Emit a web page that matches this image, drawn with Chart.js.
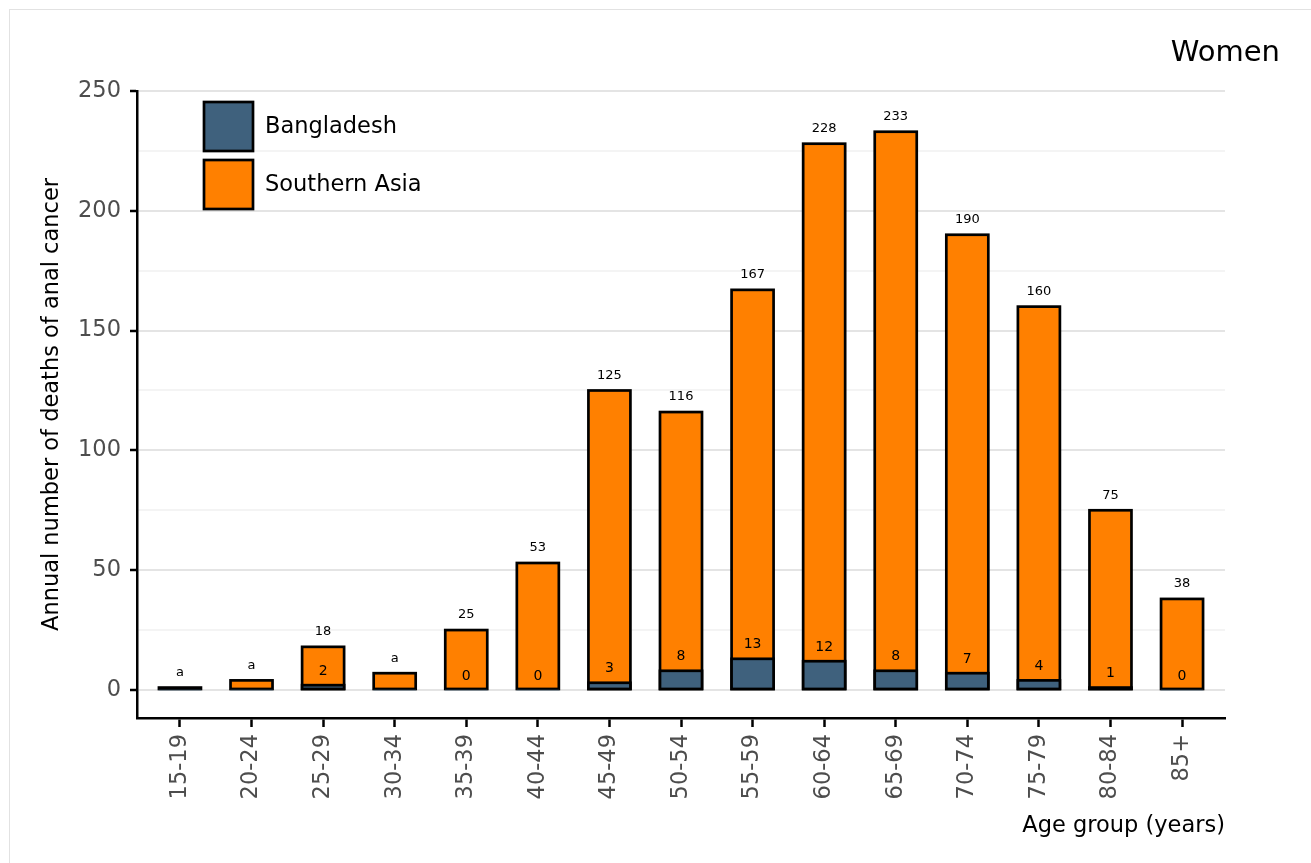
<!DOCTYPE html>
<html>
<head>
<meta charset="utf-8">
<script src="https://cdn.jsdelivr.net/npm/chart.js@4"></script>
<style>
  html, body { margin: 0; padding: 0; background: #fff; }
  #frame { position: absolute; left: 9px; top: 9px; right: 0; bottom: 0;
           border-left: 1px solid #e2e2e2; border-top: 1px solid #e2e2e2; }
  #chart { position: absolute; left: 0; top: 0; }
</style>
</head>
<body>
<div id="frame"></div>
<canvas id="chart" width="1311" height="863"></canvas>
<script>
// age groups and annual deaths (women)
const ageGroups = ['15-19', '20-24', '25-29', '30-34', '35-39', '40-44', '45-49', '50-54',
                   '55-59', '60-64', '65-69', '70-74', '75-79', '80-84', '85+'];
const southernAsia = [1, 4, 18, 7, 25, 53, 125, 116, 167, 228, 233, 190, 160, 75, 38];
const bangladesh   = [0, 0, 2, 0, 0, 0, 3, 8, 13, 12, 8, 7, 4, 1, 0];
const topLabels    = ['a', 'a', '18', 'a', '25', '53', '125', '116', '167', '228', '233', '190', '160', '75', '38'];
const bdLabels     = ['', '', '2', '', '0', '0', '3', '8', '13', '12', '8', '7', '4', '1', '0'];
const yTicks = [0, 50, 100, 150, 200, 250];

const FONT = 'DejaVu Sans';
const COL_BD = '#3f617d';
const COL_SA = '#ff8000';
const EDGE = 2.7;

// outline each bar on its edge (stroke centred, like the original), right after its dataset
const outlinePlugin = {
  id: 'outline',
  afterDatasetDraw(chart, args) {
    const { ctx } = chart;
    ctx.save();
    ctx.lineWidth = EDGE;
    ctx.strokeStyle = '#000';
    ctx.lineJoin = 'miter';
    args.meta.data.forEach(bar => {
      const { x, y, base, width } = bar.getProps(['x', 'y', 'base', 'width'], true);
      if (Math.abs(base - y) < 0.01) return;
      ctx.strokeRect(x - width / 2, Math.min(y, base), width, Math.abs(base - y));
    });
    ctx.restore();
  }
};

// value labels, legend and title drawn on top of the chart
const overlayPlugin = {
  id: 'overlay',
  afterDatasetsDraw(chart) {
    const { ctx, scales: { x, y } } = chart;
    ctx.save();
    ctx.fillStyle = '#000';
    ctx.textAlign = 'center';
    ctx.textBaseline = 'middle';
    ctx.font = `13px "${FONT}"`;
    southernAsia.forEach((v, i) => {
      ctx.fillText(topLabels[i], x.getPixelForValue(i), y.getPixelForValue(v) - 15);
    });
    ctx.font = `14px "${FONT}"`;
    bangladesh.forEach((v, i) => {
      if (bdLabels[i]) ctx.fillText(bdLabels[i], x.getPixelForValue(i), y.getPixelForValue(v) - 14);
    });
    ctx.restore();
  },
  afterDraw(chart) {
    const { ctx, chartArea } = chart;
    ctx.save();
    // legend
    const lx = chartArea.left + 67, ly = chartArea.top + 11;
    chart.data.datasets.forEach((ds, i) => {
      const top = ly + i * 58;
      ctx.fillStyle = ds.backgroundColor;
      ctx.fillRect(lx, top, 49, 49);
      ctx.lineWidth = EDGE;
      ctx.strokeStyle = '#000';
      ctx.strokeRect(lx, top, 49, 49);
      ctx.fillStyle = '#000';
      ctx.font = `22.5px "${FONT}"`;
      ctx.textAlign = 'left';
      ctx.textBaseline = 'middle';
      ctx.fillText(ds.label, lx + 61, top + 25);
    });
    // panel title
    ctx.font = `29px "${FONT}"`;
    ctx.textAlign = 'right';
    ctx.fillText('Women', 1280, 53);
    ctx.restore();
  }
};

new Chart(document.getElementById('chart'), {
  type: 'bar',
  data: {
    datasets: [
      {
        label: 'Bangladesh',
        data: bangladesh.map((v, i) => ({ x: i, y: v })),
        backgroundColor: COL_BD,
        borderWidth: 0
      },
      {
        label: 'Southern Asia',
        data: southernAsia.map((v, i) => ({ x: i, y: v })),
        backgroundColor: COL_SA,
        borderWidth: 0
      }
    ]
  },
  options: {
    responsive: false,
    animation: false,
    grouped: false,
    barThickness: 42,
    layout: { padding: { left: 0, top: 91, right: 86, bottom: 0 } },
    plugins: {
      legend: { display: false },
      tooltip: { enabled: false }
    },
    scales: {
      x: {
        type: 'linear',
        offset: false,
        min: -0.6,
        max: ageGroups.length - 0.4,
        afterFit: s => { s.height = 145; },
        border: { color: '#000', width: 2.5 },
        grid: { offset: false, drawOnChartArea: false, drawTicks: true, tickLength: 9, tickColor: '#000', tickWidth: 2.5 },
        ticks: {
          stepSize: 1,
          includeBounds: false,
          autoSkip: false,
          maxRotation: 90,
          minRotation: 90,
          padding: 7,
          color: '#4d4d4d',
          font: { family: FONT, size: 22.5 },
          callback: v => (Number.isInteger(v) && ageGroups[v]) ? ageGroups[v] : ''
        },
        title: {
          display: true,
          text: 'Age group (years)',
          align: 'end',
          color: '#000',
          font: { family: FONT, size: 22.5 },
          padding: { top: 0, bottom: 23.5 }
        }
      },
      y: {
        min: -11.7,
        max: 250,
        afterFit: s => { s.width = 137; },
        afterBuildTicks: s => {
          // major ticks plus minor gridlines halfway between
          const t = [];
          yTicks.forEach((v, i) => {
            t.push({ value: v });
            if (i < yTicks.length - 1) t.push({ value: (v + yTicks[i + 1]) / 2 });
          });
          s.ticks = t;
        },
        border: { color: '#000', width: 2.5 },
        grid: {
          color: c => yTicks.includes(c.tick.value) ? '#e4e4e4' : '#f4f4f4',
          lineWidth: 2,
          tickLength: 7,
          tickWidth: 2.5,
          tickColor: c => yTicks.includes(c.tick.value) ? '#000' : 'rgba(0,0,0,0)'
        },
        ticks: {
          padding: 9,
          color: '#4d4d4d',
          font: { family: FONT, size: 22.5 },
          callback: v => yTicks.includes(v) ? String(v) : ''
        },
        title: {
          display: true,
          text: 'Annual number of deaths of anal cancer',
          color: '#000',
          font: { family: FONT, size: 22.5 },
          padding: { top: 38.5, bottom: 0 }
        }
      }
    }
  },
  plugins: [outlinePlugin, overlayPlugin]
});
</script>
</body>
</html>
